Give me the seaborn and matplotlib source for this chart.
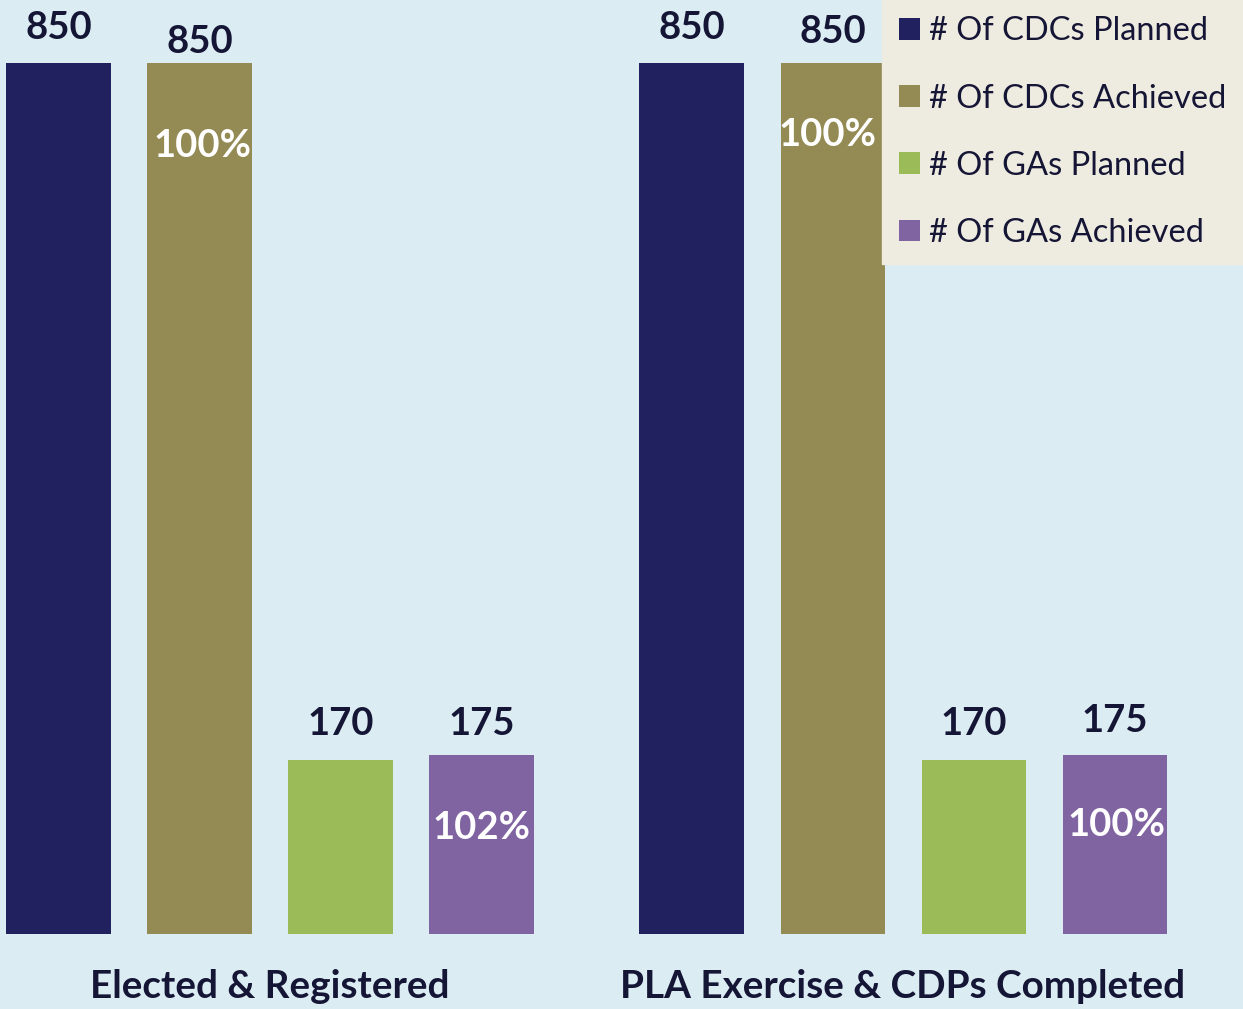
import matplotlib
matplotlib.use("Agg")
import matplotlib.pyplot as plt
import seaborn as sns
import pandas as pd
from matplotlib.patches import Patch

# ---- data ----
categories = ["Elected & Registered", "PLA Exercise & CDPs Completed"]
series = ["# Of CDCs Planned", "# Of CDCs Achieved", "# Of GAs Planned", "# Of GAs Achieved"]
values_elected = [850, 850, 170, 175]
values_pla = [850, 850, 170, 175]
pct_elected = [None, "100%", None, "102%"]
pct_pla = [None, "100%", None, "100%"]

# ---- styles ----
colors = ["#222160", "#948A54", "#9BBB59", "#8064A2"]
bg = "#DBEDF3"
legend_bg = "#EEEBE0"
text_col = "#151535"
value_offsets = [[35, 21, 36, 31], [35, 31, 36, 34]]   # px above bar top
pct_offsets = [[0, 83, 0, 73], [0, 72, 0, 70]]         # px below bar top
pct_dx = [[0, 3, 0, 0], [0, -5, 0, 2]]                 # px horizontal shift

sns.set_style("white")
plt.rcParams["font.family"] = ["Lato", "DejaVu Sans"]

rows = []
for cat, vals in zip(categories, [values_elected, values_pla]):
    for s, v in zip(series, vals):
        rows.append({"category": cat, "series": s, "value": v})
df = pd.DataFrame(rows)

W, H = 1243, 1009
fig = plt.figure(figsize=(W / 100, H / 100), dpi=100)
fig.patch.set_facecolor(bg)
ax = fig.add_axes([0, 1 - 934 / H, 1, 934 / H])
ax.set_facecolor(bg)

sns.barplot(data=df, x="category", y="value", hue="series", order=categories,
            hue_order=series, palette=colors, width=0.891, gap=0.262,
            saturation=1, ax=ax, legend=False, edgecolor="none")

ax.set_ylim(0, 911.4)
ax.set_xlim(-0.4265, 1.537)
for sp in ax.spines.values():
    sp.set_visible(False)
ax.set_yticks([])
ax.set_xlabel("")
ax.set_ylabel("")
ax.tick_params(axis="x", length=0, pad=25, labelsize=27.8, labelcolor=text_col)
for lab in ax.get_xticklabels():
    lab.set_fontweight("bold")

pct_all = [pct_elected, pct_pla]
for si, cont in enumerate(ax.containers):
    for ci, bar in enumerate(cont):
        cx = bar.get_x() + bar.get_width() / 2
        h = bar.get_height()
        ax.annotate(f"{int(h)}", (cx, h), xytext=(0, value_offsets[ci][si] * 0.72),
                    textcoords="offset points", ha="center", va="center",
                    fontsize=27.5, fontweight="bold", color=text_col)
        p = pct_all[ci][si]
        if p:
            ax.annotate(p, (cx, h),
                        xytext=(pct_dx[ci][si] * 0.72, -pct_offsets[ci][si] * 0.72),
                        textcoords="offset points", ha="center", va="center",
                        fontsize=27.5, fontweight="bold", color="white")

handles = [Patch(facecolor=c, edgecolor="none") for c in colors]
leg = ax.legend(handles, series, loc="upper right", bbox_to_anchor=(1, 1),
                bbox_transform=fig.transFigure, borderaxespad=0,
                fontsize=23.5, frameon=True, fancybox=False, facecolor=legend_bg,
                edgecolor=legend_bg, framealpha=1, handlelength=0.64,
                handleheight=0.64, handletextpad=0.3, labelspacing=1.14,
                borderpad=0.5)
for t in leg.get_texts():
    t.set_color(text_col)

fig.savefig("out.png", dpi=100, facecolor=bg)
